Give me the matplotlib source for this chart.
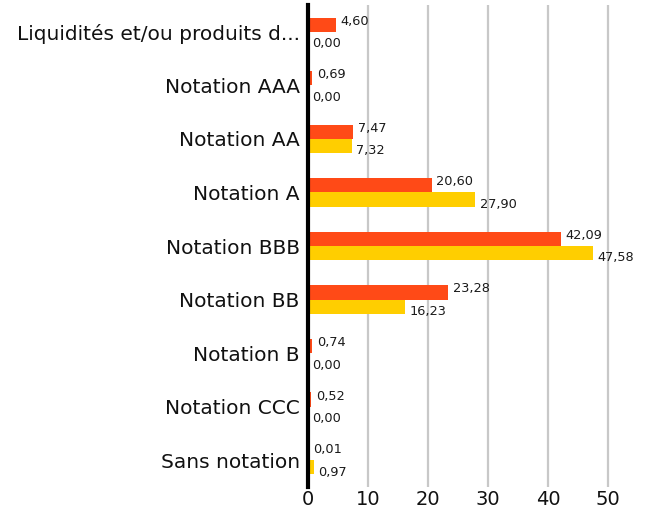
import matplotlib.pyplot as plt
import numpy as np

plt.rcParams['font.family'] = ['DejaVu Sans']

categories = ['Liquidités et/ou produits d...', 'Notation AAA', 'Notation AA', 'Notation A',
              'Notation BBB', 'Notation BB', 'Notation B', 'Notation CCC', 'Sans notation']
fund = [4.60, 0.69, 7.47, 20.60, 42.09, 23.28, 0.74, 0.52, 0.01]
index = [0.00, 0.00, 7.32, 27.90, 47.58, 16.23, 0.00, 0.00, 0.97]
xticks = [0, 10, 20, 30, 40, 50]

orange = '#FF4A17'
yellow = '#FFCE00'

fig = plt.figure(figsize=(6.49, 5.11), dpi=100)
# axes placed in pixel terms: zero line at x=308, plot from y=5 to y=487
ax = fig.add_axes([308 / 649, 24 / 511, 333 / 649, 482 / 511])

y = np.arange(len(categories))
h = 0.265
ax.barh(y - h / 2, fund, height=h, color=orange, zorder=3)
ax.barh(y + h / 2, index, height=h, color=yellow, zorder=3)


def fmt(v):
    return f'{v:.2f}'.replace('.', ',')


for i in range(len(categories)):
    ax.annotate(fmt(fund[i]), (fund[i], y[i] - h / 2), xytext=(3.5, 2.5), textcoords='offset points',
                ha='left', va='center', fontsize=9.3, color='#1a1a1a')
    ax.annotate(fmt(index[i]), (index[i], y[i] + h / 2), xytext=(3, -3.5), textcoords='offset points',
                ha='left', va='center', fontsize=9.3, color='#1a1a1a')

ax.set_ylim(len(categories) - 0.5, -0.5)
ax.set_xlim(0, 55.5)
ax.set_yticks(y)
ax.set_yticklabels(categories, fontsize=14.5, color='#111111')
ax.set_xticks(xticks)
ax.set_xticklabels([str(t) for t in xticks], fontsize=14, color='#111111')
ax.tick_params(axis='both', length=0)
ax.tick_params(axis='y', pad=6)
ax.tick_params(axis='x', pad=2)

for s in ['top', 'right', 'bottom']:
    ax.spines[s].set_visible(False)
ax.spines['left'].set_linewidth(3)
ax.spines['left'].set_color('black')
ax.spines['left'].set_zorder(5)

ax.grid(axis='x', color='#C8C8C8', linewidth=1.6, zorder=0)
ax.set_axisbelow(True)

fig.savefig('out.png', dpi=100)
